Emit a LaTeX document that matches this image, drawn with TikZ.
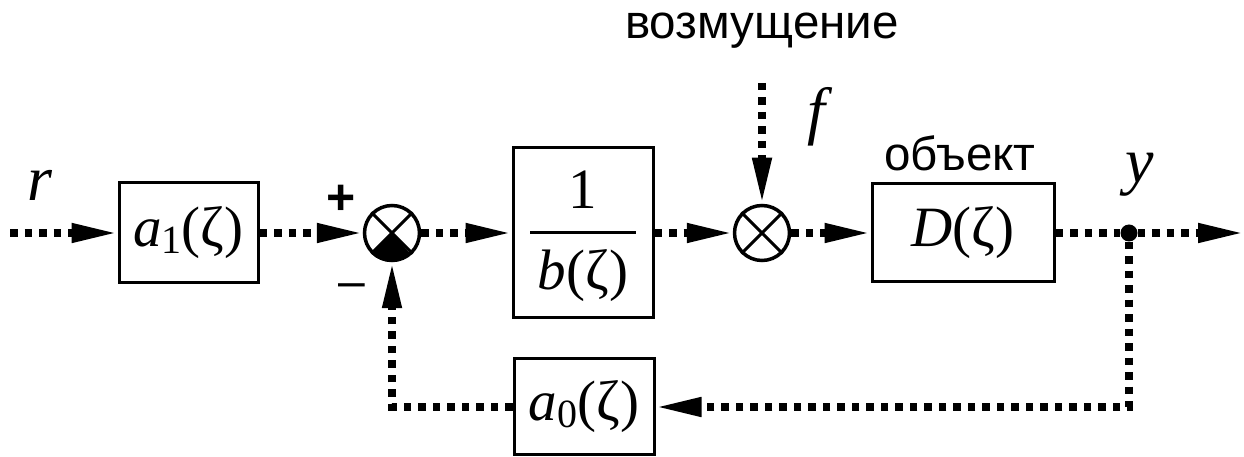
\documentclass[tikz,border=0pt]{standalone}
\usepackage{fontspec}
\setmainfont{Liberation Serif}
\newfontfamily\rus{Liberation Sans}
\usetikzlibrary{arrows.meta}
\tikzset{
  blk/.style={draw,line width=3pt,rectangle,inner sep=0pt},
  sumnode/.style={draw,line width=3.5pt,circle,inner sep=0pt,minimum size=55pt},
  dotline/.style={line width=7.5pt,dash pattern=on 7.5pt off 7pt},
  arr/.style={-{Triangle[length=46pt,width=18pt]}},
  mth/.style={font=\fontsize{57}{60}\selectfont},
  big/.style={font=\fontsize{64}{68}\selectfont},
  lab/.style={font=\rus\fontsize{47.5}{50}\selectfont},
  sgn/.style={font=\rus\bfseries\fontsize{50}{54}\selectfont},
  sgnm/.style={font=\rus\fontsize{48}{52}\selectfont}
}
\newcommand{\zt}{ζ}
\begin{document}
\begin{tikzpicture}[x=1pt,y=1pt]
\useasboundingbox (0,0) rectangle (1244,457);
% nodes
\coordinate (in) at (10,224);
\node[blk,minimum width=139pt,minimum height=100pt,mth] (a1) at (188.5,224) {\textit{a}\raisebox{-0.12em}{\fontsize{40}{44}\selectfont 1}(\zt)};
\node[sumnode] (s1) at (392,224) {};
\node[blk,minimum width=140pt,minimum height=170pt] (b) at (583,224) {};
\node[mth] (bnum) at (583,267) {1};
\node[mth] (bden) at (583,181) {\textit{b}(\zt)};
\node[sumnode] (s2) at (762,224) {};
\node[blk,minimum width=182pt,minimum height=98pt,mth] (D) at (963,224) {\textit{D}(\zt)};
\node[circle,fill,inner sep=0pt,minimum size=17pt] (j) at (1129,224) {};
\coordinate (out) at (1244,224);
\node[blk,minimum width=140pt,minimum height=96pt,mth] (a0) at (584,50) {\textit{a}\raisebox{-0.12em}{\fontsize{40}{44}\selectfont 0}(\zt)};
\coordinate (c1) at (1129,50);
\coordinate (c2) at (392,50);
\coordinate (fs) at (762,374);
% labels
\node[big] (rl) at (40,272) {\textit{r}};
\node[big] (fl) at (820,340) {\textit{f}};
\node[big] (yl) at (1140,282) {\textit{y}};
\node[lab] (vz) at (762,426) {возмущение};
\node[lab] (ob) at (960,304) {объект};
\node[sgn] (plus) at (341,257) {+};
\node[sgnm] (minus) at (352,166) {–};
% fraction bar
\draw[line width=3pt] ([xshift=-53pt]b.center) -- ([xshift=53pt]b.center);
% summer details
\fill (s1.center) -- (s1.south west) arc[start angle=225,end angle=315,radius=27.5pt] -- cycle;
\draw[line width=3pt] (s1.north west) -- (s1.south east) (s1.north east) -- (s1.south west);
\draw[line width=3pt] (s2.north west) -- (s2.south east) (s2.north east) -- (s2.south west);
% connectors
\draw[dotline,arr] (in) -- (a1.west);
\draw[dotline,arr] (a1.east) -- (s1.west);
\draw[dotline,arr] (s1.east) -- (b.west);
\draw[dotline,arr] (b.east) -- (s2.west);
\draw[dotline,arr] (s2.east) -- (D.west);
\draw[dotline,arr] (fs) -- (s2.north);
\draw[dotline] (D.east) -- (j);
\draw[dotline,arr] (j) -- (out);
\draw[dotline,arr] (j) -- (c1) -- (a0.east);
\draw[dotline,arr] (a0.west) -- (c2) -- (s1.south);
\end{tikzpicture}
\end{document}
